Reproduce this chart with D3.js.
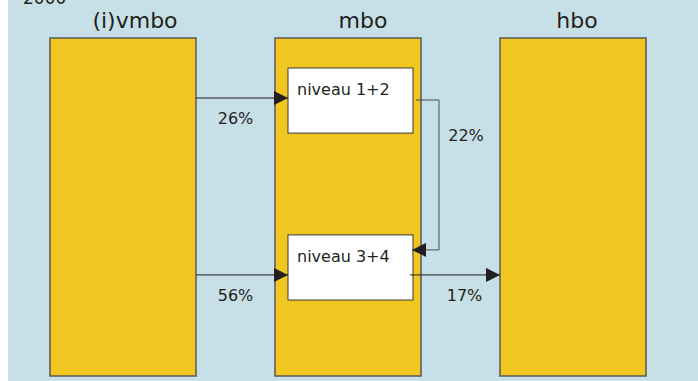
<!DOCTYPE html>
<html>
<head>
<meta charset="utf-8">
<script src="https://cdn.jsdelivr.net/npm/d3@7"></script>
<style>
  html, body { margin: 0; padding: 0; background: #ffffff; }
  svg { display: block; }
  text { font-family: "DejaVu Sans", sans-serif; fill: #231f20; }
</style>
</head>
<body>
<svg id="chart" width="698" height="381"></svg>
<script>
// ---- data ----
const yearLabel = "2000";
const stages = ["(i)vmbo", "mbo", "hbo"];
const levels = ["niveau 1+2", "niveau 3+4"];
const flowFrom = ["(i)vmbo", "(i)vmbo", "niveau 1+2", "niveau 3+4"];
const flowTo = ["niveau 1+2", "niveau 3+4", "niveau 3+4", "hbo"];
const flowValues = [26, 56, 22, 17];

// ---- layout ----
const W = 698, H = 381;
const svg = d3.select("#chart");

const x = d3.scaleBand().domain(stages).range([50, 646]).paddingInner(0.351);
const yLevel = d3.scaleBand().domain(levels).range([68, 300]).paddingInner(0.61);
const barTop = 38, barBottom = 376;
const titleCenter = { "(i)vmbo": 135, "mbo": 363, "hbo": 577 };

// background panel
svg.append("rect").attr("x", 8).attr("y", 0).attr("width", W - 8).attr("height", H)
  .attr("fill", "#c7dfe6");

// arrow marker
const defs = svg.append("defs");
defs.append("marker").attr("id", "arr").attr("viewBox", "0 0 14 14")
  .attr("refX", 14).attr("refY", 7).attr("markerWidth", 14).attr("markerHeight", 14)
  .attr("markerUnits", "userSpaceOnUse").attr("orient", "auto")
  .append("path").attr("d", "M0,0 L14,7 L0,14 Z").attr("fill", "#231f20");

// year label
svg.append("text").attr("x", 23).attr("y", 4).attr("font-size", 17).text(yearLabel);

// stage bars
svg.selectAll("rect.bar").data(stages).join("rect").attr("class", "bar")
  .attr("x", d => x(d)).attr("y", barTop)
  .attr("width", x.bandwidth()).attr("height", barBottom - barTop)
  .attr("fill", "#f1c621").attr("stroke", "#5a5a55").attr("stroke-width", 1.5);

// stage titles
svg.selectAll("text.title").data(stages).join("text").attr("class", "title")
  .attr("x", d => titleCenter[d]).attr("y", 28)
  .attr("text-anchor", "middle").attr("font-size", 22).text(d => d);

// level boxes inside mbo
const boxX = x("mbo") + 13, boxW = 125;
svg.selectAll("rect.box").data(levels).join("rect").attr("class", "box")
  .attr("x", boxX).attr("y", d => yLevel(d))
  .attr("width", boxW).attr("height", yLevel.bandwidth())
  .attr("fill", "#ffffff").attr("stroke", "#3a3a3a").attr("stroke-width", 1);
svg.selectAll("text.box").data(levels).join("text").attr("class", "box")
  .attr("x", boxX + 9).attr("y", d => yLevel(d) + 27)
  .attr("font-size", 16).text(d => d);

// flows
const arrowY = { "niveau 1+2": yLevel("niveau 1+2") + 30, "niveau 3+4": yLevel("niveau 3+4") + 40 };
const vRight = x("(i)vmbo") + x.bandwidth();
const boxRight = boxX + boxW;
const bracketX = 439;
const lineColor = "#231f20";

flowValues.forEach((v, i) => {
  const from = flowFrom[i], to = flowTo[i];
  const label = v + "%";
  if (from === "(i)vmbo") {
    const yy = arrowY[to];
    svg.append("line").attr("x1", vRight).attr("x2", boxX).attr("y1", yy).attr("y2", yy)
      .attr("stroke", lineColor).attr("stroke-width", 1).attr("marker-end", "url(#arr)");
    svg.append("text").attr("x", (vRight + x("mbo")) / 2).attr("y", yy + 26)
      .attr("text-anchor", "middle").attr("font-size", 16).text(label);
  } else if (to === "hbo") {
    const yy = arrowY[from];
    svg.append("line").attr("x1", boxRight - 3).attr("x2", x("hbo")).attr("y1", yy).attr("y2", yy)
      .attr("stroke", lineColor).attr("stroke-width", 1).attr("marker-end", "url(#arr)");
    svg.append("text").attr("x", (x("mbo") + x.bandwidth() + x("hbo")) / 2 + 4).attr("y", yy + 26)
      .attr("text-anchor", "middle").attr("font-size", 16).text(label);
  } else {
    const y1 = yLevel(from) + 32, y2 = yLevel(to) + 15;
    svg.append("path")
      .attr("d", `M${boxRight + 3},${y1} H${bracketX} V${y2} H${boxRight - 1}`)
      .attr("fill", "none").attr("stroke", "#4a4a4a").attr("stroke-width", 1)
      .attr("marker-end", "url(#arr)");
    svg.append("text").attr("x", 466).attr("y", y1 + 41)
      .attr("text-anchor", "middle").attr("font-size", 16).text(label);
  }
});
</script>
</body>
</html>
